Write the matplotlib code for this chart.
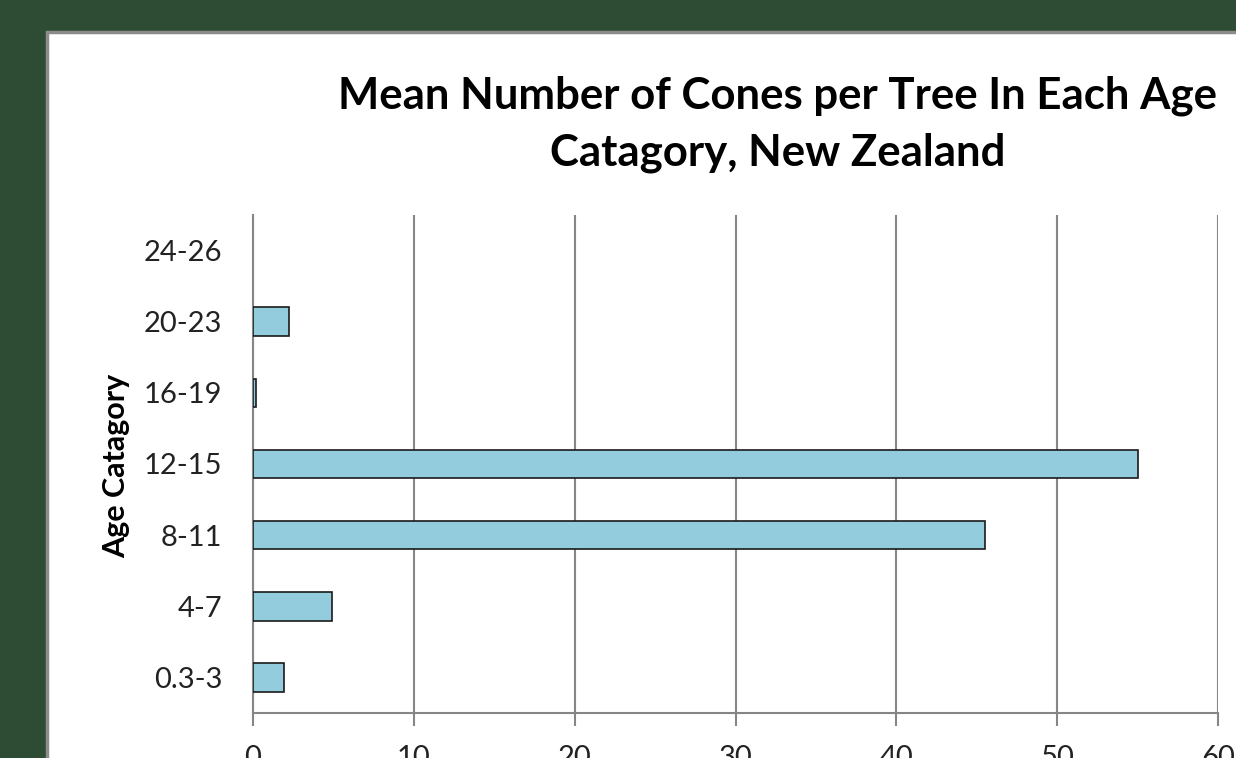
import matplotlib
matplotlib.use("Agg")
import matplotlib.pyplot as plt
from matplotlib.patches import Rectangle

# data
categories = ["0.3-3", "4-7", "8-11", "12-15", "16-19", "20-23", "24-26"]
mean_cones = [1.95, 4.9, 45.5, 55.0, 0.2, 2.25, 0.0]
x_ticks = [0, 10, 20, 30, 40, 50, 60]

W, H, DPI = 1236, 758, 100
FONT = "Lato"

fig = plt.figure(figsize=(W / DPI, H / DPI), dpi=DPI)
fig.patch.set_facecolor("#2e4b33")

# white chart panel, runs off the right and bottom edges
panel = Rectangle((47 / W, -0.05), 1.2, 1 - 32 / H + 0.05, transform=fig.transFigure,
                  facecolor="white", edgecolor="#8c8c8c", linewidth=2.5, zorder=0)
fig.patches.append(panel)

ax = fig.add_axes([253 / W, 1 - 713 / H, (1218 - 253) / W, (713 - 215) / H])
ax.set_zorder(2)
ax.set_facecolor("white")

pos = list(range(len(categories)))
# empty bars get no outline (Excel draws nothing for a zero value)
edges = ["#1a1a1a" if v > 0 else "none" for v in mean_cones]
ax.barh(pos, mean_cones, height=0.4, color="#93cddd", edgecolor=edges,
        linewidth=1.2, zorder=3)

ax.set_xlim(0, 60)
ax.set_ylim(-0.5, len(categories) - 0.5)
ax.set_xticks(x_ticks)
ax.set_yticks(pos)
ax.set_yticklabels(categories, fontfamily=FONT, fontsize=21, color="#222222")
ax.set_xticklabels([str(t) for t in x_ticks], fontfamily=FONT, fontsize=21, color="#222222")

ax.grid(axis="x", color="#868686", linewidth=1.5, zorder=1)
for s in ("top", "right"):
    ax.spines[s].set_visible(False)
for s in ("left", "bottom"):
    ax.spines[s].set_color("#868686")
    ax.spines[s].set_linewidth(1.5)
ax.tick_params(axis="y", length=0, pad=22)
ax.tick_params(axis="x", length=9, width=1.5, color="#868686", pad=14)

fig.text(778 / W, 1 - 76 / H, "Mean Number of Cones per Tree In Each Age\nCatagory, New Zealand",
         ha="center", va="top", fontfamily=FONT, fontweight="bold", fontsize=31.5,
         linespacing=1.48, color="black", zorder=5)
fig.text(116 / W, 1 - 466 / H, "Age Catagory", rotation=90, ha="center", va="center",
         fontfamily=FONT, fontweight="bold", fontsize=22, color="black", zorder=5)

fig.savefig("out.png", dpi=DPI, facecolor=fig.get_facecolor())
